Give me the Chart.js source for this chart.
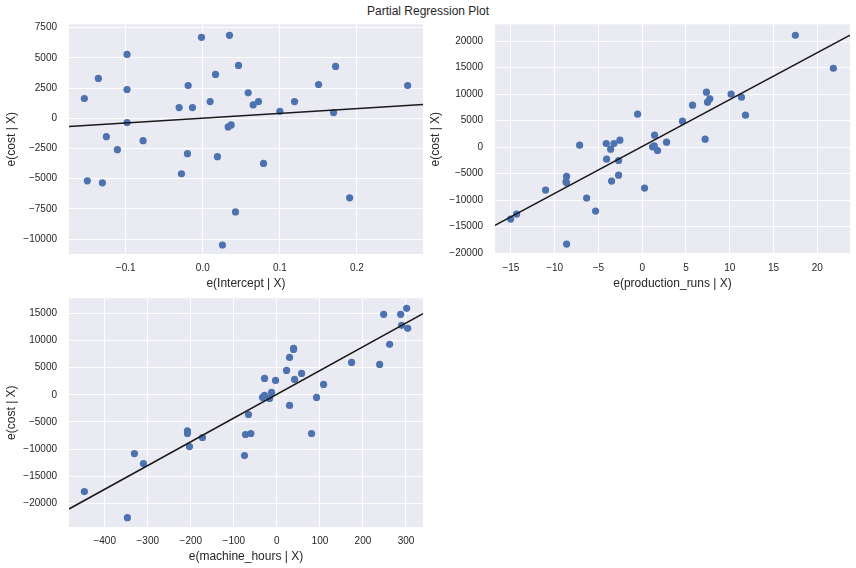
<!DOCTYPE html>
<html>
<head>
<meta charset="utf-8">
<script src="https://cdn.jsdelivr.net/npm/chart.js@4"></script>
<style>
  body { margin: 0; background: #fff; width: 856px; height: 568px; position: relative; overflow: hidden; }
  #title { position: absolute; left: 0; top: 0; width: 856px; text-align: center; font: 12px "Liberation Sans", Arial, sans-serif; line-height: 23px; color: #262626; }
  canvas { position: absolute; }
</style>
</head>
<body>
<div id="title">Partial Regression Plot</div>
<canvas id="c1" width="428" height="295" style="left:0;top:0"></canvas>
<canvas id="c2" width="428" height="295" style="left:428px;top:0"></canvas>
<canvas id="c3" width="428" height="300" style="left:0;top:268px"></canvas>
<script>
// e(Intercept | X)
const interceptX = [-0.1537, -0.1498, -0.1355, -0.1303, -0.1251, -0.1108, -0.0983, -0.0983, -0.0983, -0.0775, -0.0307, -0.0277, -0.0199, -0.0190, -0.0134, -0.0017, 0.0095, 0.0165, 0.0190, 0.0255, 0.0329, 0.0346, 0.0368, 0.0424, 0.0463, 0.0589, 0.0654, 0.0723, 0.0788, 0.1000, 0.1190, 0.1502, 0.1697, 0.1723, 0.1905, 0.2658];
const interceptY = [1634, -5178, 3295, -5344, -1523, -2603, 5289, 2381, -360, -1855, 886, -4597, -2935, 2714, 886, 6701, 1385, 3627, -3184, -10494, -720, 6867, -554, -7753, 4375, 2104, 1108, 1385, -3738, 582, 1385, 2797, 471, 4292, -6590, 2714];
const interceptLineX = [-0.1736, 0.2857];
const interceptLineY = [-692, 1135];

// e(production_runs | X)
const runsX = [-15.03, -14.35, -11.04, -8.64, -8.71, -8.64, -8.64, -7.15, -6.35, -5.33, -4.11, -4.07, -3.61, -3.50, -3.23, -2.70, -2.70, -2.55, -0.53, 0.27, 1.18, 1.37, 1.41, 1.75, 2.78, 4.60, 5.75, 7.19, 7.34, 7.46, 7.72, 10.16, 11.34, 11.80, 17.50, 21.84];
const runsY = [-13565, -12623, -8101, -5526, -6531, -6720, -18275, 377, -9608, -12058, 691, -2261, -377, -6406, 691, -2512, -5275, 1319, 6217, -7724, 63, 251, 2261, -628, 942, 4898, 7913, 1507, 10362, 8478, 9106, 9985, 9420, 6029, 21101, 14884];
const runsLineX = [-16.82, 23.74];
const runsLineY = [-14758, 21101];

// e(machine_hours | X)
const hoursX = [-447.3, -347.3, -331.0, -310.1, -207.8, -207.8, -203.1, -172.9, -75.2, -72.9, -65.9, -60.5, -33.3, -28.7, -17.1, -12.4, -28.7, -3.1, 22.5, 29.5, 38.8, 38.8, 41.1, 57.4, 29.5, 92.2, 108.5, 80.6, 173.6, 238.8, 248.1, 262.0, 287.6, 289.9, 301.6, 303.9];
const hoursY = [-17792, -22577, -10798, -12638, -6626, -7117, -9509, -7853, -11166, -7301, -3620, -7117, -491, -123, -675, 429, 3006, 2638, 4479, 6871, 8528, 8344, 2822, 3926, -1963, -491, 1902, -7117, 5951, 5583, 14785, 9264, 14785, 12761, 15890, 12209];
const hoursLineX = [-483, 339.5];
const hoursLineY = [-20982, 14908];

// tick labels
const interceptTicks = [-0.1, 0, 0.1, 0.2];
const runsTicks = [-15, -10, -5, 0, 5, 10, 15, 20];
const hoursTicks = [-400, -300, -200, -100, 0, 100, 200, 300];
const costTicks1 = [-10000, -7500, -5000, -2500, 0, 2500, 5000, 7500];
const costTicks2 = [-20000, -15000, -10000, -5000, 0, 5000, 10000, 15000, 20000];
const costTicks3 = [-20000, -15000, -10000, -5000, 0, 5000, 10000, 15000];

Chart.defaults.font.family = '"Liberation Sans", Arial, sans-serif';
Chart.defaults.color = '#262626';

// fond gris de la zone de tracé
const plotBg = {
    id: 'plotBg',
    beforeDraw(chart) {
        const { ctx, chartArea: a } = chart;
        ctx.save();
        ctx.fillStyle = '#eaeaf2';
        ctx.fillRect(a.left, a.top, a.right - a.left, a.bottom - a.top);
        ctx.restore();
    }
};

const minus = s => String(s).replace('-', '\u2212');

function makeChart(id, o) {
    const pts = o.x.map((v, i) => ({ x: v, y: o.y[i] }));
    const line = o.lineX.map((v, i) => ({ x: v, y: o.lineY[i] }));
    return new Chart(document.getElementById(id), {
        type: 'scatter',
        data: {
            datasets: [{
                data: pts,
                backgroundColor: '#4c72b0',
                borderWidth: 0,
                pointRadius: 3.6,
                order: 2
            }, {
                type: 'line',
                data: line,
                borderColor: '#1a1a1a',
                borderWidth: 1.5,
                pointRadius: 0,
                fill: false,
                order: 1
            }]
        },
        options: {
            responsive: false,
            animation: false,
            layout: { padding: o.padding },
            plugins: { legend: { display: false }, tooltip: { enabled: false } },
            scales: {
                x: {
                    type: 'linear',
                    min: o.xMin, max: o.xMax,
                    afterBuildTicks: ax => { ax.ticks = o.xTicks.map(v => ({ value: v })); },
                    afterFit: ax => { ax.height = 41; },
                    ticks: { autoSkip: false, maxRotation: 0, padding: 8, font: { size: 10 }, callback: v => minus(o.xFmt(v)) },
                    grid: { color: '#ffffff', lineWidth: 1, drawTicks: false },
                    border: { display: false },
                    title: { display: true, text: o.xTitle, font: { size: 12 }, padding: { top: 0, bottom: 4.4 } }
                },
                y: {
                    min: o.yMin, max: o.yMax,
                    afterBuildTicks: ax => { ax.ticks = o.yTicks.map(v => ({ value: v })); },
                    afterFit: ax => { ax.width = o.yWidth; },
                    ticks: { autoSkip: false, padding: 12, font: { size: 10 }, callback: v => minus(v) },
                    grid: { color: '#ffffff', lineWidth: 1, drawTicks: false },
                    border: { display: false },
                    title: { display: true, text: 'e(cost | X)', font: { size: 12 }, padding: { top: o.yTitlePad, bottom: 0 } }
                }
            }
        },
        plugins: [plotBg]
    });
}

makeChart('c1', {
    x: interceptX, y: interceptY, lineX: interceptLineX, lineY: interceptLineY,
    xMin: -0.1736, xMax: 0.2857, yMin: -11240, yMax: 7780,
    xTicks: interceptTicks, yTicks: costTicks1, xFmt: v => v.toFixed(1),
    xTitle: 'e(Intercept | X)', yWidth: 69, yTitlePad: 4.5,
    padding: { top: 24.3, right: 5, left: 0, bottom: 0 }
});

makeChart('c2', {
    x: runsX, y: runsY, lineX: runsLineX, lineY: runsLineY,
    xMin: -16.82, xMax: 23.74, yMin: -20150, yMax: 23170,
    xTicks: runsTicks, yTicks: costTicks2, xFmt: v => v,
    xTitle: 'e(production_runs | X)', yWidth: 67, yTitlePad: 0,
    padding: { top: 24.3, right: 6, left: 0, bottom: 0 }
});

makeChart('c3', {
    x: hoursX, y: hoursY, lineX: hoursLineX, lineY: hoursLineY,
    xMin: -483, xMax: 339.5, yMin: -24295, yMax: 17730,
    xTicks: hoursTicks, yTicks: costTicks3, xFmt: v => v,
    xTitle: 'e(machine_hours | X)', yWidth: 69, yTitlePad: 4.5,
    padding: { top: 30.3, right: 5, left: 0, bottom: 0 }
});
</script>
</body>
</html>
